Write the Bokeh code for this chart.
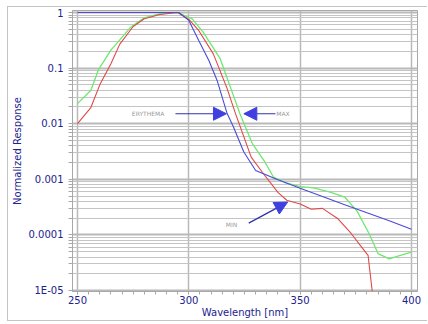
from bokeh.plotting import figure
from bokeh.models import (Range1d, FixedTicker, SingleIntervalTicker, CustomJSTickFormatter,
                          Arrow, NormalHead, Label)
from bokeh.embed import file_html
from bokeh.resources import INLINE

# ---- data ----
wl_ery = [250, 295.5, 300, 304.5, 309, 312.7, 317.2, 320, 324.7, 330, 340, 350, 360, 370, 380, 390, 400]
ery = [1.0, 1.0, 0.72, 0.31, 0.137, 0.06, 0.0152, 0.0088, 0.0031, 0.00144, 0.00098, 0.00069,
       0.00049, 0.00035, 0.00025, 0.00018, 0.000126]

wl_red = [250, 256, 260, 265, 269, 275, 280, 287, 295, 300, 304.5, 311, 317, 321, 328, 333,
          340, 344, 350, 355, 360, 367, 373, 377, 380.5, 382.6]
red = [0.0100, 0.0195, 0.050, 0.12, 0.27, 0.56, 0.77, 0.92, 1.0, 0.75, 0.47, 0.18, 0.045, 0.015,
       0.0025, 0.00134, 0.00058, 0.00042, 0.00036, 0.00029, 0.00030, 0.000195, 0.000105,
       0.000065, 0.000043, 0.000008]

wl_grn = [250, 256, 259.5, 265, 274, 280, 287, 295, 301.5, 306.5, 314, 318.7, 323, 328.5, 333.7,
          338, 344, 350, 356, 363.5, 370, 375.5, 381, 385, 390, 395, 400]
grn = [0.023, 0.040, 0.095, 0.21, 0.55, 0.80, 0.95, 1.0, 0.77, 0.44, 0.15, 0.045, 0.015, 0.0044,
       0.0022, 0.0011, 0.00085, 0.00074, 0.0007, 0.00059, 0.00048, 0.00027, 0.000105, 0.000046,
       0.000037, 0.000043, 0.000049]

ytick_vals = [1e-5, 1e-4, 1e-3, 1e-2, 1e-1, 1]
ytick_labels = ["1E-05", "0.0001", "0.001", "0.01", "0.1", "1"]
xtick_interval = 50

NAVY = "#22228f"
GRID = "#b9b9b9"
FONT = "DejaVu Sans"

p = figure(width=420, height=315, y_axis_type="log", output_backend="svg",
           toolbar_location=None,
           x_range=Range1d(247.75, 402.7), y_range=Range1d(9.6e-6, 1.086),
           min_border_left=64, min_border_right=11, min_border_top=3, min_border_bottom=31)
p.styles = {"margin-left": "7px", "margin-top": "6px",
            "border-left": "1px solid #c4c4c4", "border-top": "1px solid #c4c4c4",
            "border-bottom": "1px solid #c4c4c4"}
p.background_fill_color = "white"
p.outline_line_color = "#a8a8a8"

# y axis
minor = [m * 10.0 ** k for k in range(-5, 0) for m in range(2, 10)]
p.yaxis.ticker = FixedTicker(ticks=ytick_vals, minor_ticks=minor)
p.yaxis.formatter = CustomJSTickFormatter(
    args=dict(vals=ytick_vals, labs=ytick_labels),
    code="""
    let best = 0, bd = 1e9;
    for (let i = 0; i < vals.length; i++) {
        const d = Math.abs(Math.log10(tick) - Math.log10(vals[i]));
        if (d < bd) { bd = d; best = i; }
    }
    return labs[best];
    """)
p.yaxis.axis_label = "Normalized Response"
p.yaxis.major_tick_out = 4
p.yaxis.minor_tick_out = 4
p.yaxis.major_tick_in = 0
p.yaxis.minor_tick_in = 0
p.yaxis.major_label_standoff = 5
p.yaxis.axis_label_standoff = 3

# x axis
p.xaxis.ticker = SingleIntervalTicker(interval=xtick_interval, num_minor_ticks=10)
p.xaxis.axis_label = "Wavelength [nm]"
p.xaxis.major_tick_out = 3
p.xaxis.minor_tick_out = 3
p.xaxis.major_tick_in = 0
p.xaxis.minor_tick_in = 0
p.xaxis.major_label_standoff = 1
p.xaxis.axis_label_standoff = 0

for ax in (p.xaxis, p.yaxis):
    ax.axis_line_color = "#a8a8a8"
    ax.major_tick_line_color = "#a8a8a8"
    ax.minor_tick_line_color = "#a8a8a8"
    ax.major_label_text_font = FONT
    ax.major_label_text_font_size = "10px"
    ax.major_label_text_color = NAVY
    ax.axis_label_text_font = FONT
    ax.axis_label_text_font_size = "10px"
    ax.axis_label_text_font_style = "normal"
    ax.axis_label_text_color = NAVY

# grids
p.xgrid.grid_line_color = GRID
p.xgrid.grid_line_width = 1.5
p.ygrid.grid_line_color = GRID
p.ygrid.grid_line_width = 2
p.ygrid.minor_grid_line_color = "#c4c4c4"
p.ygrid.minor_grid_line_width = 1

# curves
p.line(wl_grn, grn, line_color="#6ee86e", line_width=1.3)
p.line(wl_red, red, line_color="#e04848", line_width=1.1)
p.line(wl_ery, ery, line_color="#4a4ad8", line_width=1.1)

# annotations
ARROW_LINE = "#3030b0"
HEAD = "#4040e0"
ya = 0.0151
p.add_layout(Arrow(end=NormalHead(size=13, fill_color=HEAD, line_color=HEAD),
                   x_start=294.0, y_start=ya, x_end=316.9, y_end=ya,
                   line_color=ARROW_LINE, line_width=1.2))
p.add_layout(Arrow(end=NormalHead(size=13, fill_color=HEAD, line_color=HEAD),
                   x_start=338.9, y_start=ya, x_end=324.7, y_end=ya,
                   line_color=ARROW_LINE, line_width=1.2))
p.add_layout(Arrow(end=NormalHead(size=13, fill_color=HEAD, line_color=HEAD),
                   x_start=326.9, y_start=1.63e-4, x_end=344.4, y_end=3.89e-4,
                   line_color=ARROW_LINE, line_width=1.2))

for txt, x, y, al in [("ERYTHEMA", 289.0, ya, "right"), ("MAX", 339.3, ya, "left"),
                      ("MIN", 319.2, 1.54e-4, "center")]:
    p.add_layout(Label(x=x, y=y, text=txt, text_font=FONT, text_font_size="6px",
                       text_color="#9a9a9a", text_align=al, text_baseline="middle"))

open("out.html", "w").write(file_html(p, INLINE))
